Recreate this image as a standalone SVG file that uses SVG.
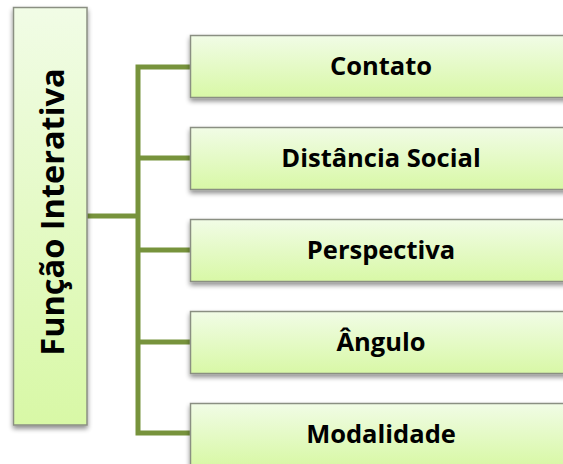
<svg xmlns="http://www.w3.org/2000/svg" width="563" height="464" viewBox="0 0 563 464">
<defs>
<linearGradient id="g" x1="0" y1="0" x2="0" y2="1">
<stop offset="0" stop-color="#f1fce6"/>
<stop offset="1" stop-color="#d8f8a6"/>
</linearGradient>
<filter id="sh" x="-10%" y="-10%" width="120%" height="130%">
<feGaussianBlur in="SourceAlpha" stdDeviation="2.5"/>
<feOffset dx="0" dy="3" result="b"/>
<feComponentTransfer><feFuncA type="linear" slope="0.45"/></feComponentTransfer>
<feMerge><feMergeNode/><feMergeNode in="SourceGraphic"/></feMerge>
</filter>
</defs>
<style>
.box{fill:url(#g);stroke:#8a8f82;stroke-width:1.5;filter:url(#sh)}
.t{font-family:"Open Sans","Liberation Sans",sans-serif;font-weight:bold;font-size:25.5px;fill:#000;text-anchor:middle}
.c{fill:none;stroke:#77933c;stroke-width:5}
</style>
<g id="connectors">
<path class="c" d="M87 216H138"/>
<path class="c" d="M191 67H138V433H191"/>
<path class="c" d="M138 158H191M138 250H191M138 342H191"/>
</g>
<g id="root">
<rect class="box" x="13.5" y="7.5" width="73.5" height="417.5"/>
<text class="t" style="font-size:32.5px" transform="translate(64 212) rotate(-90)">Função Interativa</text>
</g>
<g id="n1">
<rect class="box" x="190.5" y="35.5" width="380" height="62"/>
<text class="t" x="381" y="75">Contato</text>
</g>
<g id="n2">
<rect class="box" x="190.5" y="127.5" width="380" height="62"/>
<text class="t" x="381" y="167">Distância Social</text>
</g>
<g id="n3">
<rect class="box" x="190.5" y="219.5" width="380" height="62"/>
<text class="t" x="381" y="259">Perspectiva</text>
</g>
<g id="n4">
<rect class="box" x="190.5" y="311.5" width="380" height="62"/>
<text class="t" x="381" y="351">Ângulo</text>
</g>
<g id="n5">
<rect class="box" x="190.5" y="403.5" width="380" height="62"/>
<text class="t" x="381" y="443">Modalidade</text>
</g>
</svg>
